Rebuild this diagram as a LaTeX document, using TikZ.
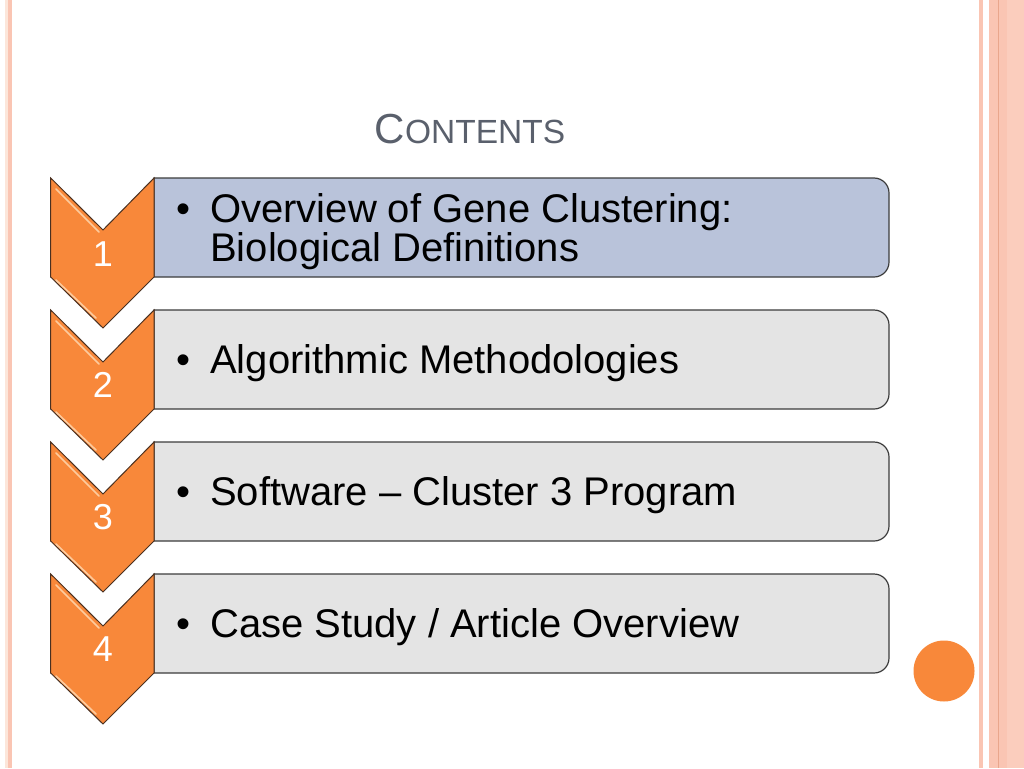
\documentclass[tikz,border=0pt]{standalone}
\usepackage{fontspec}
\setmainfont{Liberation Sans}
\definecolor{chev}{HTML}{F8883A}
\definecolor{chevedge}{HTML}{4A3020}
\definecolor{gloss}{HTML}{FDCB9E}
\definecolor{boxgray}{HTML}{E4E4E4}
\definecolor{boxblue}{HTML}{B9C3DA}
\definecolor{boxedge}{HTML}{3C3C3C}
\definecolor{titlecol}{HTML}{5A606C}
\definecolor{pinkA}{HTML}{FAC5B3}
\definecolor{pinkB}{HTML}{FBCDBD}
\definecolor{pinkpale}{HTML}{FCE6DA}
\definecolor{pinkline}{HTML}{E9A68C}
\tikzset{
  chevron/.style={fill=chev, draw=chevedge, line width=1pt, line join=miter},
  glossline/.style={draw=gloss, line width=1.6pt, line cap=round},
  itembox/.style={draw=boxedge, line width=1.2pt},
  itemtext/.style={anchor=base west, inner sep=0pt, font=\fontsize{40}{40}\selectfont, text=black},
  bullettext/.style={anchor=base west, inner sep=0pt, font=\fontsize{40}{40}\selectfont, text=black},
  numtext/.style={anchor=base, inner sep=0pt, font=\fontsize{36}{36}\selectfont, text=white},
}
\begin{document}
\begin{tikzpicture}[x=1pt,y=-1pt]
\useasboundingbox (0,0) rectangle (1024,768);
\fill[white] (0,0) rectangle (1024,768);
% borders
\fill[pinkpale] (5,0) rectangle (7.5,768);
\fill[pinkA] (7.5,0) rectangle (12,768);
\fill[pinkA] (979.3,0) rectangle (982.5,768);
\fill[pinkA] (989.3,0) rectangle (998.3,768);
\fill[pinkline] (998.3,0) rectangle (999.3,768);
\fill[pinkA] (999.3,0) rectangle (1007.3,768);
\fill[pinkB] (1007.3,0) rectangle (1024,768);
% title
\node[anchor=base, inner sep=0pt, text=titlecol] (title) at (470,143)
  {{\fontsize{42}{42}\selectfont C}{\fontsize{33.5}{33.5}\selectfont ONTENTS}};
% boxes
\foreach \i/\col in {0/boxblue,1/boxgray,2/boxgray,3/boxgray}{
  \pgfmathsetmacro{\dy}{132*\i}
  \path[itembox, fill=\col] (154,178+\dy) -- (874,178+\dy)
     arc[start angle=-90, end angle=0, radius=15] -- (889,262+\dy)
     arc[start angle=0, end angle=90, radius=15] -- (154,277+\dy) -- cycle;
  \path[chevron] (50.7,178+\dy) -- (103,230+\dy) -- (154,178+\dy) -- (154,277+\dy)
     -- (103,328+\dy) -- (50.7,277+\dy) -- cycle;
  \draw[glossline] (56,189+\dy) -- (99,232+\dy);
  \draw[glossline] (56,280+\dy) -- (96,318+\dy);
}
% numbers
\node[numtext] (n1) at (103,266) {1};
\node[numtext] (n2) at (103,397) {2};
\node[numtext] (n3) at (103,529) {3};
\node[numtext] (n4) at (103,661) {4};
% item texts
\node[bullettext] (b1) at (176,222) {•};
\node[itemtext] (t1a) at (210,222) {Overview of Gene Clustering:};
\node[itemtext] (t1b) at (210,261) {Biological Definitions};
\node[bullettext] (b2) at (176,373) {•};
\node[itemtext] (t2) at (210,373) {Algorithmic Methodologies};
\node[bullettext] (b3) at (176,505) {•};
\node[itemtext] (t3) at (210,505) {Software – Cluster 3 Program};
\node[bullettext] (b4) at (176,637) {•};
\node[itemtext] (t4) at (210,637) {Case Study / Article Overview};
% circle
\fill[chev] (944,671) circle[radius=30.5];
\end{tikzpicture}
\end{document}
